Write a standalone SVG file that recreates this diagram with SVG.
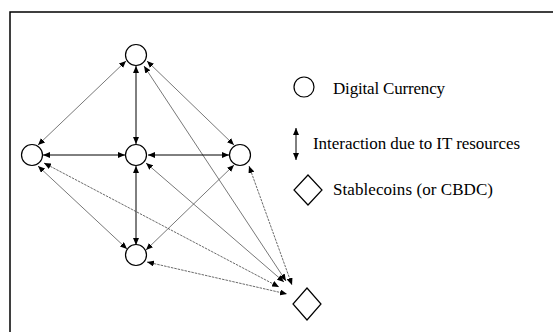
<svg xmlns="http://www.w3.org/2000/svg" width="553" height="332" viewBox="0 0 553 332">
<style>
.node{fill:#fff;stroke:#000;stroke-width:1.2}
.dark{stroke:#000;stroke-width:1}
.thin{stroke:#555;stroke-width:0.8}
.dot{stroke:#444;stroke-width:0.8;stroke-dasharray:2.5,1}
.lbl{font-family:"Liberation Serif","Times New Roman",serif;font-size:17px;fill:#000}
</style>
<defs>
<marker id="ah" markerWidth="7" markerHeight="6" refX="7" refY="3" orient="auto-start-reverse" markerUnits="userSpaceOnUse">
<path d="M0,0 L7,3 L0,6 z" fill="#000"/>
</marker>
</defs>
<rect x="10" y="12" width="560" height="340" fill="#fff" stroke="#000" stroke-width="1.5"/>
<g id="connectors" marker-start="url(#ah)" marker-end="url(#ah)">
<line class="thin" x1="126" y1="61" x2="38" y2="145"/>
<line class="dark" x1="136" y1="66" x2="136" y2="144"/>
<line class="thin" x1="147" y1="61" x2="234" y2="145"/>
<line class="thin" x1="144" y1="66" x2="286" y2="281"/>
<line class="dark" x1="43" y1="155" x2="125" y2="155"/>
<line class="dark" x1="148" y1="155" x2="229" y2="155"/>
<line class="dark" x1="136" y1="166" x2="136" y2="245"/>
<line class="thin" x1="38" y1="166" x2="127" y2="249"/>
<line class="thin" x1="234" y1="165" x2="146" y2="250"/>
<line class="dot" x1="44" y1="163" x2="279" y2="287"/>
<line class="thin" x1="146" y1="163" x2="284" y2="282"/>
<line class="dot" x1="249" y1="166" x2="292" y2="285"/>
<line class="dot" x1="147" y1="262" x2="287" y2="294"/>
</g>
<g id="n-top"><circle class="node" cx="136" cy="55" r="10.5"/></g>
<g id="n-left"><circle class="node" cx="32" cy="155" r="10.5"/></g>
<g id="n-center"><circle class="node" cx="136" cy="155" r="10.5"/></g>
<g id="n-right"><circle class="node" cx="240" cy="155" r="10.5"/></g>
<g id="n-bottom"><circle class="node" cx="136" cy="255" r="10.5"/></g>
<g id="n-stable"><polygon class="node" points="307,288 321,304 307,320 293,304"/></g>
<g id="legend">
<circle class="node" cx="304" cy="87" r="10"/>
<text class="lbl" x="333" y="94" textLength="112" lengthAdjust="spacing">Digital Currency</text>
<line class="dark" x1="296" y1="128" x2="296" y2="160" marker-start="url(#ah)" marker-end="url(#ah)"/>
<text class="lbl" x="313" y="149" textLength="207" lengthAdjust="spacing">Interaction due to IT resources</text>
<polygon class="node" points="308,175 322,190 308,205 294,190"/>
<text class="lbl" x="333" y="195" textLength="160" lengthAdjust="spacing">Stablecoins (or CBDC)</text>
</g>
</svg>
